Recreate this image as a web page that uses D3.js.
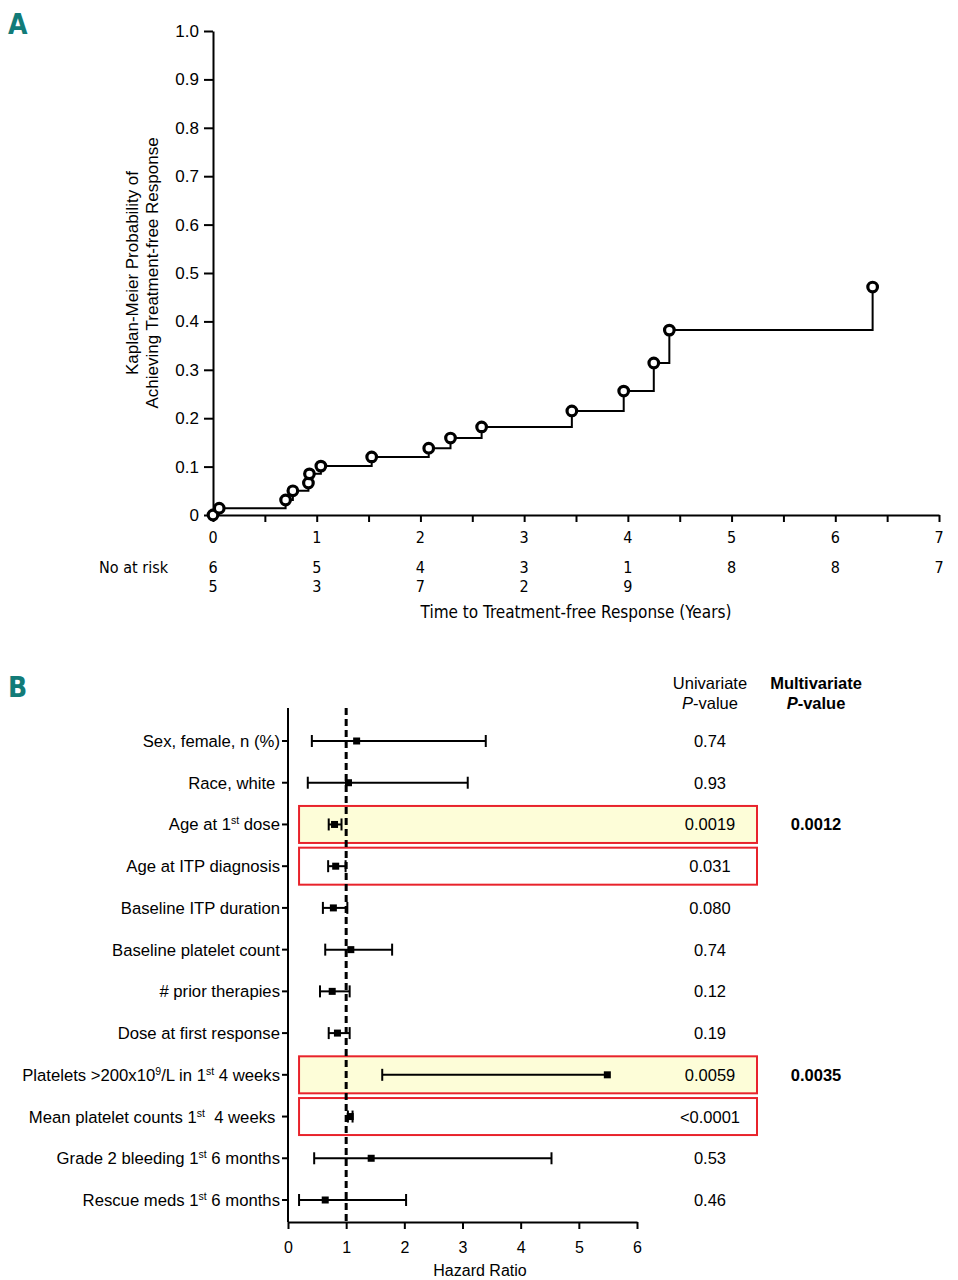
<!DOCTYPE html>
<html>
<head>
<meta charset="utf-8">
<script src="https://cdn.jsdelivr.net/npm/d3@7"></script>
<style>
  html, body { margin: 0; padding: 0; background: #fff; }
  svg { display: block; }
  .sans { font-family: "Liberation Sans", Arial, sans-serif; }
  .narrow { font-family: "Liberation Sans Narrow", "DejaVu Sans Condensed", "Liberation Sans", sans-serif; }
</style>
</head>
<body>
<script>
// ---------- Panel A data ----------
const kmTime = [0, 0.06, 0.70, 0.77, 0.92, 0.93, 1.04, 1.53, 2.08, 2.29, 2.59, 3.46, 3.96, 4.25, 4.40, 6.36];
const kmProb = [0, 0.014, 0.031, 0.050, 0.066, 0.085, 0.101, 0.120, 0.138, 0.159, 0.182, 0.215, 0.256, 0.314, 0.382, 0.471];
const yTicksA = [0, 0.1, 0.2, 0.3, 0.4, 0.5, 0.6, 0.7, 0.8, 0.9, 1.0];
const xTicksA = [0, 1, 2, 3, 4, 5, 6, 7];
const xMinorA = [0, 0.5, 1, 1.5, 2, 2.5, 3, 3.5, 4, 4.5, 5, 5.5, 6, 6.5, 7];
const riskRow1 = ["6", "5", "4", "3", "1", "8", "8", "7"];
const riskRow2 = ["5", "3", "7", "2", "9"];

// ---------- Panel B data ----------
const factors = [
  [{t:"Sex, female, n (%)"}],
  [{t:"Race, white "}],
  [{t:"Age at 1"},{t:"st",sup:true},{t:" dose"}],
  [{t:"Age at ITP diagnosis"}],
  [{t:"Baseline ITP duration"}],
  [{t:"Baseline platelet count"}],
  [{t:"# prior therapies"}],
  [{t:"Dose at first response"}],
  [{t:"Platelets >200x10"},{t:"9",sup:true},{t:"/L in 1"},{t:"st",sup:true},{t:" 4 weeks"}],
  [{t:"Mean platelet counts 1"},{t:"st",sup:true},{t:"  4 weeks "}],
  [{t:"Grade 2 bleeding 1"},{t:"st",sup:true},{t:" 6 months"}],
  [{t:"Rescue meds 1"},{t:"st",sup:true},{t:" 6 months"}]
];
const hrPoint = [1.18, 1.04, 0.80, 0.82, 0.78, 1.08, 0.76, 0.85, 5.49, 1.07, 1.43, 0.64];
const hrLower = [0.41, 0.34, 0.70, 0.69, 0.60, 0.64, 0.55, 0.70, 1.62, 1.03, 0.45, 0.19];
const hrUpper = [3.40, 3.09, 0.92, 0.99, 1.02, 1.79, 1.06, 1.06, null, 1.11, 4.53, 2.03];
const pUni = ["0.74", "0.93", "0.0019", "0.031", "0.080", "0.74", "0.12", "0.19", "0.0059", "<0.0001", "0.53", "0.46"];
const pMulti = ["", "", "0.0012", "", "", "", "", "", "0.0035", "", "", ""];
const boxFill = [null, null, "yellow", "white", null, null, null, null, "yellow", "white", null, null];
const xTicksB = [0, 1, 2, 3, 4, 5, 6];

const W = 958, H = 1280;
const svg = d3.select("body").append("svg").attr("width", W).attr("height", H)
  .attr("class", "sans");

const teal = "#127b78";
svg.append("text").attr("x", 8).attr("y", 34).attr("class", "narrow")
  .attr("font-size", 28).attr("font-weight", "bold").attr("fill", teal).text("A");
svg.append("text").attr("x", 8).attr("y", 697).attr("class", "narrow")
  .attr("font-size", 28).attr("font-weight", "bold").attr("fill", teal).text("B");

// ================= Panel A =================
const xA = d3.scaleLinear().domain([0, 7]).range([213, 939]);
const yA = d3.scaleLinear().domain([0, 1]).range([515, 31]);

const gA = svg.append("g");
// y axis
const yAxisA = d3.axisLeft(yA).tickValues(yTicksA).tickSize(9).tickSizeOuter(0).tickPadding(5)
  .tickFormat(d => d === 0 ? "0" : d3.format(".1f")(d));
const gy = gA.append("g").attr("transform", `translate(${xA(0)},0)`).call(yAxisA);
gy.selectAll("path.domain").attr("stroke", "#000").attr("stroke-width", 2);
gy.selectAll(".tick line").attr("stroke", "#000").attr("stroke-width", 2);
gy.selectAll(".tick text").attr("font-size", 17).attr("fill", "#000")
  .attr("font-family", "Liberation Sans, Arial, sans-serif");

// x axis
const xAxisA = d3.axisBottom(xA).tickValues(xMinorA).tickSize(7).tickSizeOuter(0).tickFormat("");
const gx = gA.append("g").attr("transform", `translate(0,${yA(0)})`).call(xAxisA);
gx.selectAll("path.domain").attr("stroke", "#000").attr("stroke-width", 2);
gx.selectAll(".tick line").attr("stroke", "#000").attr("stroke-width", 2);

gA.selectAll("text.xtA").data(xTicksA).enter().append("text")
  .attr("class", "narrow").attr("x", d => xA(d)).attr("y", 543)
  .attr("text-anchor", "middle").attr("font-size", 16).text(d => d);

// at risk
gA.append("text").attr("class", "narrow").attr("x", 168).attr("y", 573)
  .attr("text-anchor", "end").attr("font-size", 16).text("No at risk");
gA.selectAll("text.r1").data(riskRow1).enter().append("text")
  .attr("class", "narrow").attr("x", (d, i) => xA(xTicksA[i])).attr("y", 573)
  .attr("text-anchor", "middle").attr("font-size", 16).text(d => d);
gA.selectAll("text.r2").data(riskRow2).enter().append("text")
  .attr("class", "narrow").attr("x", (d, i) => xA(xTicksA[i])).attr("y", 592)
  .attr("text-anchor", "middle").attr("font-size", 16).text(d => d);

gA.append("text").attr("class", "narrow").attr("x", 576).attr("y", 618)
  .attr("text-anchor", "middle").attr("font-size", 17).text("Time to Treatment-free Response (Years)");

// y title
const yt = gA.append("text").attr("transform", "translate(0,273) rotate(-90)")
  .attr("text-anchor", "middle").attr("font-size", 17);
yt.append("tspan").attr("x", 0).attr("y", 138).text("Kaplan-Meier Probability of");
yt.append("tspan").attr("x", 0).attr("y", 158).text("Achieving Treatment-free Response");

// curve
const kmPts = kmTime.map((t, i) => [t, kmProb[i]]);
gA.append("path").datum(kmPts)
  .attr("d", d3.line().x(d => xA(d[0])).y(d => yA(d[1])).curve(d3.curveStepAfter))
  .attr("fill", "none").attr("stroke", "#000").attr("stroke-width", 2);
gA.selectAll("circle.km").data(kmPts).enter().append("circle")
  .attr("cx", d => xA(d[0])).attr("cy", d => yA(d[1])).attr("r", 4.8)
  .attr("fill", "#fff").attr("stroke", "#000").attr("stroke-width", 3.2);

// ================= Panel B =================
const xB = d3.scaleLinear().domain([0, 6]).range([288, 637]);
const yB = d3.scaleLinear().domain([0, 11]).range([741, 1200]);
const gB = svg.append("g");
const boxLeft = xB(0.19), boxRight = 757, boxH = 37;

// highlight boxes
factors.forEach((f, i) => {
  if (!boxFill[i]) return;
  gB.append("rect").attr("x", boxLeft).attr("y", yB(i) - boxH / 2)
    .attr("width", boxRight - boxLeft).attr("height", boxH)
    .attr("fill", boxFill[i] === "yellow" ? "#fdfdd8" : "#fff")
    .attr("stroke", "#e8232b").attr("stroke-width", 2);
});

// axes
const xAxisB = d3.axisBottom(xB).tickValues(xTicksB).tickSize(7).tickSizeOuter(0).tickPadding(13)
  .tickFormat(d3.format("d"));
const gxb = gB.append("g").attr("transform", "translate(0,1222)").call(xAxisB);
gxb.selectAll("path.domain").attr("stroke", "#000").attr("stroke-width", 2);
gxb.selectAll(".tick line").attr("stroke", "#000").attr("stroke-width", 2);
gxb.selectAll(".tick text").attr("font-size", 16).attr("fill", "#000")
  .attr("font-family", "Liberation Sans, Arial, sans-serif");
gB.append("line").attr("x1", xB(0)).attr("x2", xB(0)).attr("y1", 708).attr("y2", 1222)
  .attr("stroke", "#000").attr("stroke-width", 2);
gB.append("text").attr("x", 480).attr("y", 1276).attr("text-anchor", "middle")
  .attr("font-size", 16).text("Hazard Ratio");

// y ticks + labels
factors.forEach((f, i) => {
  gB.append("line").attr("x1", xB(0) - 6).attr("x2", xB(0)).attr("y1", yB(i)).attr("y2", yB(i))
    .attr("stroke", "#000").attr("stroke-width", 2);
  const t = gB.append("text").attr("x", 280).attr("y", yB(i) + 6)
    .attr("text-anchor", "end").attr("font-size", 16.7).attr("xml:space", "preserve")
    .style("white-space", "pre");
  let shift = 0;
  f.forEach(p => {
    const s = t.append("tspan").text(p.t);
    const target = p.sup ? -6 : 0;
    if (p.sup) s.attr("font-size", 10.5);
    s.attr("dy", target - shift);
    shift = target;
  });
});

// dashed reference line
gB.append("line").attr("x1", xB(1)).attr("x2", xB(1)).attr("y1", 708).attr("y2", 1222)
  .attr("stroke", "#000").attr("stroke-width", 3).attr("stroke-dasharray", "7,4");

// CI bars
const capH = 12;
factors.forEach((f, i) => {
  const y = yB(i);
  const hi = hrUpper[i] == null ? hrPoint[i] : hrUpper[i];
  gB.append("line").attr("x1", xB(hrLower[i])).attr("x2", xB(hi)).attr("y1", y).attr("y2", y)
    .attr("stroke", "#000").attr("stroke-width", 2);
  gB.append("line").attr("x1", xB(hrLower[i])).attr("x2", xB(hrLower[i]))
    .attr("y1", y - capH / 2).attr("y2", y + capH / 2).attr("stroke", "#000").attr("stroke-width", 2);
  if (hrUpper[i] != null) {
    gB.append("line").attr("x1", xB(hrUpper[i])).attr("x2", xB(hrUpper[i]))
      .attr("y1", y - capH / 2).attr("y2", y + capH / 2).attr("stroke", "#000").attr("stroke-width", 2);
  }
  gB.append("rect").attr("x", xB(hrPoint[i]) - 3.5).attr("y", y - 3.5)
    .attr("width", 7).attr("height", 7).attr("fill", "#000");
});

// p-value headers
const h1 = gB.append("text").attr("text-anchor", "middle").attr("font-size", 16.5);
h1.append("tspan").attr("x", 710).attr("y", 689).text("Univariate");
const h1b = h1.append("tspan").attr("x", 710).attr("y", 709);
h1b.append("tspan").attr("font-style", "italic").text("P");
h1b.append("tspan").text("-value");
const h2 = gB.append("text").attr("text-anchor", "middle").attr("font-size", 16.5).attr("font-weight", "bold");
h2.append("tspan").attr("x", 816).attr("y", 689).text("Multivariate");
const h2b = h2.append("tspan").attr("x", 816).attr("y", 709);
h2b.append("tspan").attr("font-style", "italic").text("P");
h2b.append("tspan").text("-value");

gB.selectAll("text.pu").data(pUni).enter().append("text")
  .attr("x", 710).attr("y", (d, i) => yB(i) + 6).attr("text-anchor", "middle")
  .attr("font-size", 16.5).text(d => d);
gB.selectAll("text.pm").data(pMulti).enter().append("text")
  .attr("x", 816).attr("y", (d, i) => yB(i) + 6).attr("text-anchor", "middle")
  .attr("font-size", 16.5).attr("font-weight", "bold").text(d => d);
</script>
</body>
</html>
